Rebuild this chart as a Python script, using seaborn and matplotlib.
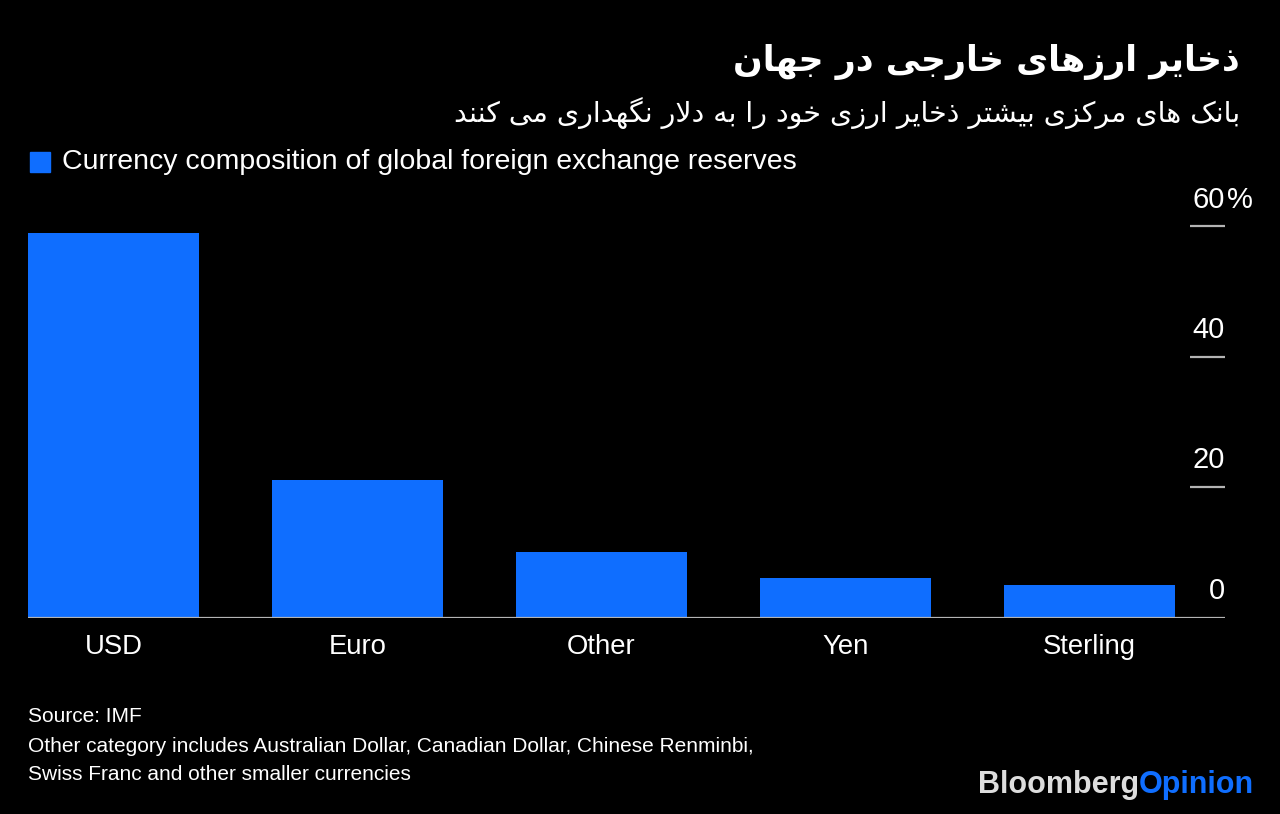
import matplotlib
matplotlib.use("Agg")
import matplotlib.pyplot as plt
import seaborn as sns
import pandas as pd

# ---------------- data ----------------
categories = ["USD", "Euro", "Other", "Yen", "Sterling"]
shares = [59.0, 21.0, 10.0, 6.0, 5.0]
y_ticks = [0, 20, 40, 60]
y_tick_labels = ["0", "20", "40", "60"]

title_fa = "ذخایر ارزهای خارجی در جهان"
subtitle_fa = "بانک های مرکزی بیشتر ذخایر ارزی خود را به دلار نگهداری می کنند"
legend_label = "Currency composition of global foreign exchange reserves"
source_lines = [
    "Source: IMF",
    "Other category includes Australian Dollar, Canadian Dollar, Chinese Renminbi,",
    "Swiss Franc and other smaller currencies",
]

# ------------- Persian shaping (matplotlib has no bidi / joining) -------------
# letter -> (isolated, final, initial, medial) ; right-joining letters have 2 forms
FORMS = {
    "ا": (0xFE8D, 0xFE8E), "د": (0xFEA9, 0xFEAA), "ذ": (0xFEAB, 0xFEAC),
    "ر": (0xFEAD, 0xFEAE), "ز": (0xFEAF, 0xFEB0), "و": (0xFEED, 0xFEEE),
    "ژ": (0xFB8A, 0xFB8B),
    "ب": (0xFE8F, 0xFE90, 0xFE91, 0xFE92), "ت": (0xFE95, 0xFE96, 0xFE97, 0xFE98),
    "ث": (0xFE99, 0xFE9A, 0xFE9B, 0xFE9C), "ج": (0xFE9D, 0xFE9E, 0xFE9F, 0xFEA0),
    "ح": (0xFEA1, 0xFEA2, 0xFEA3, 0xFEA4), "خ": (0xFEA5, 0xFEA6, 0xFEA7, 0xFEA8),
    "س": (0xFEB1, 0xFEB2, 0xFEB3, 0xFEB4), "ش": (0xFEB5, 0xFEB6, 0xFEB7, 0xFEB8),
    "ف": (0xFED1, 0xFED2, 0xFED3, 0xFED4), "ق": (0xFED5, 0xFED6, 0xFED7, 0xFED8),
    "ل": (0xFEDD, 0xFEDE, 0xFEDF, 0xFEE0), "م": (0xFEE1, 0xFEE2, 0xFEE3, 0xFEE4),
    "ن": (0xFEE5, 0xFEE6, 0xFEE7, 0xFEE8), "ه": (0xFEE9, 0xFEEA, 0xFEEB, 0xFEEC),
    "ی": (0xFBFC, 0xFBFD, 0xFBFE, 0xFBFF), "ي": (0xFEF1, 0xFEF2, 0xFEF3, 0xFEF4),
    "ک": (0xFB8E, 0xFB8F, 0xFB90, 0xFB91), "گ": (0xFB92, 0xFB93, 0xFB94, 0xFB95),
    "پ": (0xFB56, 0xFB57, 0xFB58, 0xFB59), "چ": (0xFB7A, 0xFB7B, 0xFB7C, 0xFB7D),
}


def shape_fa(text):
    out = []
    i = 0
    n = len(text)
    while i < n:
        ch = text[i]
        if ch not in FORMS:
            out.append(ch)
            i += 1
            continue
        prev = text[i - 1] if i > 0 else ""
        nxt = text[i + 1] if i + 1 < n else ""
        join_prev = prev in FORMS and len(FORMS[prev]) == 4
        if ch == "ل" and nxt == "ا":
            out.append(chr(0xFEFC if join_prev else 0xFEFB))
            i += 2
            continue
        f = FORMS[ch]
        join_next = len(f) == 4 and nxt in FORMS
        if join_prev and join_next:
            out.append(chr(f[3]))
        elif join_prev:
            out.append(chr(f[1]))
        elif join_next:
            out.append(chr(f[2]))
        else:
            out.append(chr(f[0]))
        i += 1
    return "".join(out)[::-1]


# ---------------- figure ----------------
W, H = 1280, 814
BG = "#000000"
BLUE = "#0F6EFF"
GREY = "#B4B4B4"

sns.set_theme(style="dark")
plt.rcParams["font.family"] = ["Liberation Sans", "DejaVu Sans"]

fig = plt.figure(figsize=(W / 100, H / 100), dpi=100, facecolor=BG)


def fx(px):
    return px / W


def fy(py):
    return 1 - py / H


ax_left, ax_right = 28, 1225
ax_bottom, ax_top = 617.5, 226
ax = fig.add_axes([fx(ax_left), fy(ax_bottom), fx(ax_right - ax_left),
                   (ax_bottom - ax_top) / H])
ax.set_facecolor(BG)

df = pd.DataFrame({"currency": categories, "share": shares})
sns.barplot(data=df, x="currency", y="share", color=BLUE, saturation=1,
            width=0.7, linewidth=0, edgecolor=BLUE, ax=ax)

x_lo, x_hi = -0.35, 4.557
ax.set_xlim(x_lo, x_hi)
ax.set_ylim(0, 60)
for s in ax.spines.values():
    s.set_visible(False)
ax.grid(False)
ax.set_xlabel("")
ax.set_ylabel("")
ax.set_yticks([])
ax.tick_params(axis="x", length=0, pad=12, labelsize=19.8, colors="white")

# baseline and short right-side tick lines
ax.axhline(0, color=GREY, lw=1.6, zorder=5)
tick_x0 = x_lo + (1190 - ax_left) / (ax_right - ax_left) * (x_hi - x_lo)
ax.hlines([t for t in y_ticks if t > 0], tick_x0, x_hi, color=GREY, lw=1.6,
          clip_on=False)
for t, lab in zip(y_ticks, y_tick_labels):
    ax.annotate(lab, xy=(x_hi, t), xytext=(0, 9), textcoords="offset points",
                ha="right", va="bottom", color="white", fontsize=21,
                annotation_clip=False)
ax.annotate("%", xy=(x_hi, 60), xytext=(1.5, 9), textcoords="offset points",
            ha="left", va="bottom", color="white", fontsize=21,
            annotation_clip=False)

# titles (Persian, right aligned)
fig.text(fx(1240), fy(62), shape_fa(title_fa), ha="right", va="center",
         color="white", fontsize=25, fontweight="bold", family="DejaVu Sans")
fig.text(fx(1240), fy(113), shape_fa(subtitle_fa), ha="right", va="center",
         color="white", fontsize=20.5, family="DejaVu Sans")

# legend
fig.patches.append(plt.Rectangle((fx(30), fy(172)), fx(20), 20 / H,
                                 transform=fig.transFigure, color=BLUE))
fig.text(fx(62), fy(162), legend_label, ha="left", va="center",
         color="white", fontsize=20.5)

# footer
for k, line in enumerate(source_lines):
    fig.text(fx(28), fy(717 + k * 29), line, ha="left", va="center",
             color="white", fontsize=15)

bt = fig.text(fx(978), fy(785), "Bloomberg", ha="left", va="center",
              color="#DDDDDD", fontsize=22, fontweight="bold")
fig.canvas.draw()
bb = bt.get_window_extent()
fig.text(bb.x1 / W, fy(785), "Opinion", ha="left", va="center",
         color=BLUE, fontsize=22, fontweight="bold")

fig.savefig("out.png", dpi=100, facecolor=BG)
